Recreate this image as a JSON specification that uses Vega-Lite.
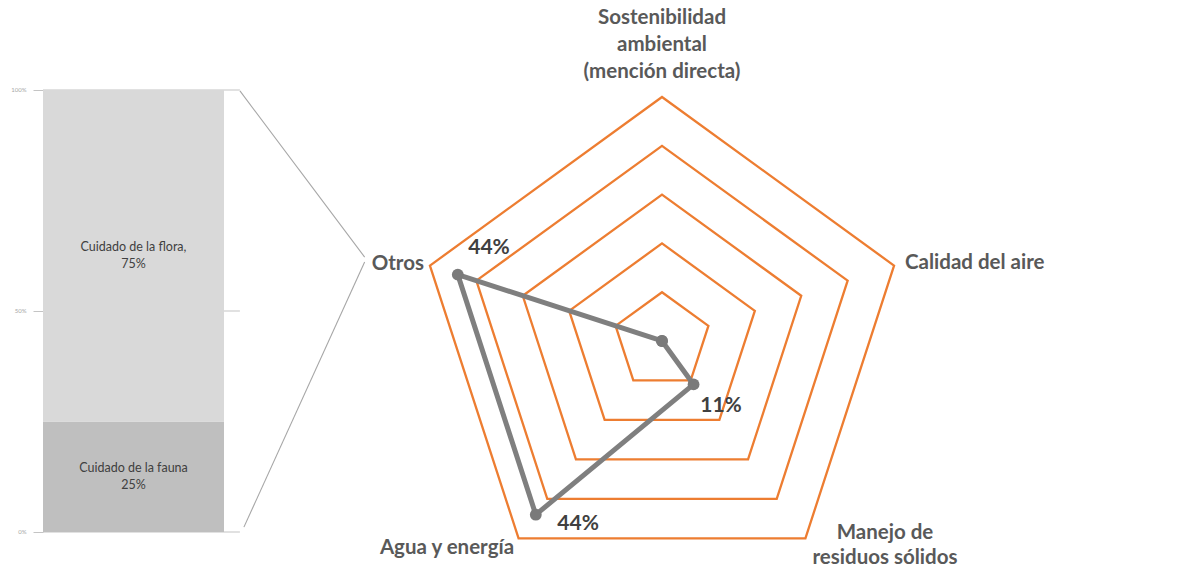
{
  "$schema": "https://vega.github.io/schema/vega-lite/v6.json",
  "padding": {"left": 10, "top": 0, "right": 0, "bottom": 0},
  "background": "white",
  "spacing": 0,
  "config": {"view": {"stroke": null}, "font": "Lato"},
  "datasets": {
    "barra": [
      {"categoria": "Cuidado de la fauna", "pct": 25, "etiqueta": "Cuidado de la fauna\n25%"},
      {"categoria": "Cuidado de la flora", "pct": 75, "etiqueta": "Cuidado de la flora,\n75%"}
    ],
    "radar": [
      {"eje": "Sostenibilidad ambiental (mención directa)", "i": 0, "valor": 0},
      {"eje": "Calidad del aire", "i": 1, "valor": 0},
      {"eje": "Manejo de residuos sólidos", "i": 2, "valor": 0.11},
      {"eje": "Agua y energía", "i": 3, "valor": 0.44},
      {"eje": "Otros", "i": 4, "valor": 0.44}
    ],
    "rejilla": [
      {"nivel": 0.1, "k": [0, 1, 2, 3, 4]},
      {"nivel": 0.2, "k": [0, 1, 2, 3, 4]},
      {"nivel": 0.3, "k": [0, 1, 2, 3, 4]},
      {"nivel": 0.4, "k": [0, 1, 2, 3, 4]},
      {"nivel": 0.5, "k": [0, 1, 2, 3, 4]}
    ]
  },
  "hconcat": [
    {
      "width": 322,
      "height": 570,
      "layer": [
        {
          "data": {"values": [{"marca": 0}, {"marca": 50}, {"marca": 100}]},
          "mark": {"type": "rule", "color": "#c4c4c4", "strokeWidth": 1.2},
          "encoding": {
            "x": {"datum": 0, "type": "quantitative", "scale": {"domain": [0, 1.779], "nice": false, "zero": false}, "axis": null},
            "x2": {"datum": 1.088},
            "y": {
              "field": "marca", "type": "quantitative",
              "scale": {"domain": [-8.6, 120.36], "nice": false, "zero": false},
              "axis": {"values": [0, 50, 100], "labelExpr": "datum.value + '%'", "domain": false, "grid": false, "tickSize": 10, "tickColor": "#c4c4c4", "labelFontSize": 6, "labelColor": "#a6a6a6", "labelPadding": 7, "title": null}
            }
          }
        },
        {
          "data": {"name": "barra"},
          "transform": [{"stack": "pct", "groupby": [], "as": ["y0", "y1"], "sort": [{"field": "categoria", "order": "ascending"}]}],
          "mark": {"type": "bar"},
          "encoding": {
            "x": {"datum": 0, "type": "quantitative"},
            "x2": {"datum": 1},
            "y": {"field": "y0", "type": "quantitative"},
            "y2": {"field": "y1"},
            "color": {"field": "categoria", "type": "nominal", "scale": {"domain": ["Cuidado de la fauna", "Cuidado de la flora"], "range": ["#bfbfbf", "#d9d9d9"]}, "legend": null}
          }
        },
        {
          "data": {"name": "barra"},
          "transform": [
            {"stack": "pct", "groupby": [], "as": ["y0", "y1"], "sort": [{"field": "categoria", "order": "ascending"}]},
            {"calculate": "(datum.y0 + datum.y1) / 2", "as": "medio"}
          ],
          "mark": {"type": "text", "lineBreak": "\n", "fontSize": 12.5, "color": "#404040", "lineHeight": 17, "align": "center", "baseline": "middle", "dy": -8.5},
          "encoding": {
            "x": {"datum": 0.5, "type": "quantitative"},
            "y": {"field": "medio", "type": "quantitative"},
            "text": {"field": "etiqueta", "type": "nominal"}
          }
        },
        {
          "data": {"values": [{}]},
          "mark": {"type": "rule", "color": "#a6a6a6", "strokeWidth": 1.1},
          "encoding": {
            "x": {"datum": 1.088, "type": "quantitative"},
            "y": {"datum": 99.8, "type": "quantitative"},
            "x2": {"datum": 1.777},
            "y2": {"datum": 62.2}
          }
        },
        {
          "data": {"values": [{}]},
          "mark": {"type": "rule", "color": "#a6a6a6", "strokeWidth": 1.1},
          "encoding": {
            "x": {"datum": 1.11, "type": "quantitative"},
            "y": {"datum": 1.1, "type": "quantitative"},
            "x2": {"datum": 1.777},
            "y2": {"datum": 61.1}
          }
        }
      ]
    },
    {
      "width": 825,
      "height": 570,
      "layer": [
        {
          "data": {"name": "rejilla"},
          "transform": [
            {"flatten": ["k"]},
            {"calculate": "datum.nivel * 100 * sin(2 * PI * datum.k / 5)", "as": "gx"},
            {"calculate": "datum.nivel * 100 * cos(2 * PI * datum.k / 5)", "as": "gy"}
          ],
          "mark": {"type": "line", "interpolate": "linear-closed", "color": "#ed7d31", "strokeWidth": 2.3},
          "encoding": {
            "x": {"field": "gx", "type": "quantitative", "scale": {"domain": [-60.656, 108.402], "nice": false, "zero": false}, "axis": null},
            "y": {"field": "gy", "type": "quantitative", "scale": {"domain": [-46.93, 69.88], "nice": false, "zero": false}, "axis": null},
            "detail": {"field": "nivel", "type": "nominal"},
            "order": {"field": "k", "type": "quantitative"}
          }
        },
        {
          "data": {"name": "radar"},
          "transform": [
            {"calculate": "datum.valor * 100 * sin(2 * PI * datum.i / 5)", "as": "px"},
            {"calculate": "datum.valor * 100 * cos(2 * PI * datum.i / 5)", "as": "py"}
          ],
          "layer": [
            {
              "mark": {"type": "line", "interpolate": "linear-closed", "color": "#7f7f7f", "strokeWidth": 5, "strokeJoin": "round"},
              "encoding": {
                "x": {"field": "px", "type": "quantitative", "axis": null},
                "y": {"field": "py", "type": "quantitative", "axis": null},
                "order": {"field": "i", "type": "quantitative"}
              }
            },
            {
              "mark": {"type": "point", "filled": true, "size": 140, "color": "#7a7a7a", "opacity": 1},
              "encoding": {
                "x": {"field": "px", "type": "quantitative", "axis": null},
                "y": {"field": "py", "type": "quantitative", "axis": null}
              }
            }
          ]
        },
        {
          "data": {"name": "radar"},
          "transform": [{"filter": "datum.eje == 'Otros'"}],
          "mark": {"type": "text", "fontSize": 21, "fontWeight": "bold", "color": "#404040", "align": "center", "baseline": "middle"},
          "encoding": {
            "x": {"datum": -35.45, "type": "quantitative", "axis": null},
            "y": {"datum": 19.06, "type": "quantitative", "axis": null},
            "text": {"field": "valor", "type": "quantitative", "format": ".0%"}
          }
        },
        {
          "data": {"name": "radar"},
          "transform": [{"filter": "datum.eje == 'Manejo de residuos sólidos'"}],
          "mark": {"type": "text", "fontSize": 21, "fontWeight": "bold", "color": "#404040", "align": "center", "baseline": "middle"},
          "encoding": {
            "x": {"datum": 12.09, "type": "quantitative", "axis": null},
            "y": {"datum": -13.32, "type": "quantitative", "axis": null},
            "text": {"field": "valor", "type": "quantitative", "format": ".0%"}
          }
        },
        {
          "data": {"name": "radar"},
          "transform": [{"filter": "datum.eje == 'Agua y energía'"}],
          "mark": {"type": "text", "fontSize": 21, "fontWeight": "bold", "color": "#404040", "align": "center", "baseline": "middle"},
          "encoding": {
            "x": {"datum": -17.2, "type": "quantitative", "axis": null},
            "y": {"datum": -37.5, "type": "quantitative", "axis": null},
            "text": {"field": "valor", "type": "quantitative", "format": ".0%"}
          }
        },
        {
          "data": {"values": [{}]},
          "mark": {"type": "text", "fontSize": 20.5, "fontWeight": "bold", "color": "#595959", "align": "center", "baseline": "middle", "lineHeight": 27},
          "encoding": {
            "x": {"datum": 0, "type": "quantitative", "axis": null},
            "y": {"datum": 66.19, "type": "quantitative", "axis": null},
            "text": {"value": ["Sostenibilidad", "ambiental", "(mención directa)"]}
          }
        },
        {
          "data": {"values": [{}]},
          "mark": {"type": "text", "fontSize": 20.5, "fontWeight": "bold", "color": "#595959", "align": "right", "baseline": "middle"},
          "encoding": {
            "x": {"datum": -48.77, "type": "quantitative", "axis": null},
            "y": {"datum": 15.78, "type": "quantitative", "axis": null},
            "text": {"value": "Otros"}
          }
        },
        {
          "data": {"values": [{}]},
          "mark": {"type": "text", "fontSize": 20.5, "fontWeight": "bold", "color": "#595959", "align": "left", "baseline": "middle"},
          "encoding": {
            "x": {"datum": 49.8, "type": "quantitative", "axis": null},
            "y": {"datum": 15.98, "type": "quantitative", "axis": null},
            "text": {"value": "Calidad del aire"}
          }
        },
        {
          "data": {"values": [{}]},
          "mark": {"type": "text", "fontSize": 20.5, "fontWeight": "bold", "color": "#595959", "align": "center", "baseline": "middle", "lineHeight": 25},
          "encoding": {
            "x": {"datum": 45.7, "type": "quantitative", "axis": null},
            "y": {"datum": -39.34, "type": "quantitative", "axis": null},
            "text": {"value": ["Manejo de", "residuos sólidos"]}
          }
        },
        {
          "data": {"values": [{}]},
          "mark": {"type": "text", "fontSize": 20.5, "fontWeight": "bold", "color": "#595959", "align": "center", "baseline": "middle"},
          "encoding": {
            "x": {"datum": -44.06, "type": "quantitative", "axis": null},
            "y": {"datum": -42.4, "type": "quantitative", "axis": null},
            "text": {"value": "Agua y energía"}
          }
        }
      ]
    }
  ]
}
